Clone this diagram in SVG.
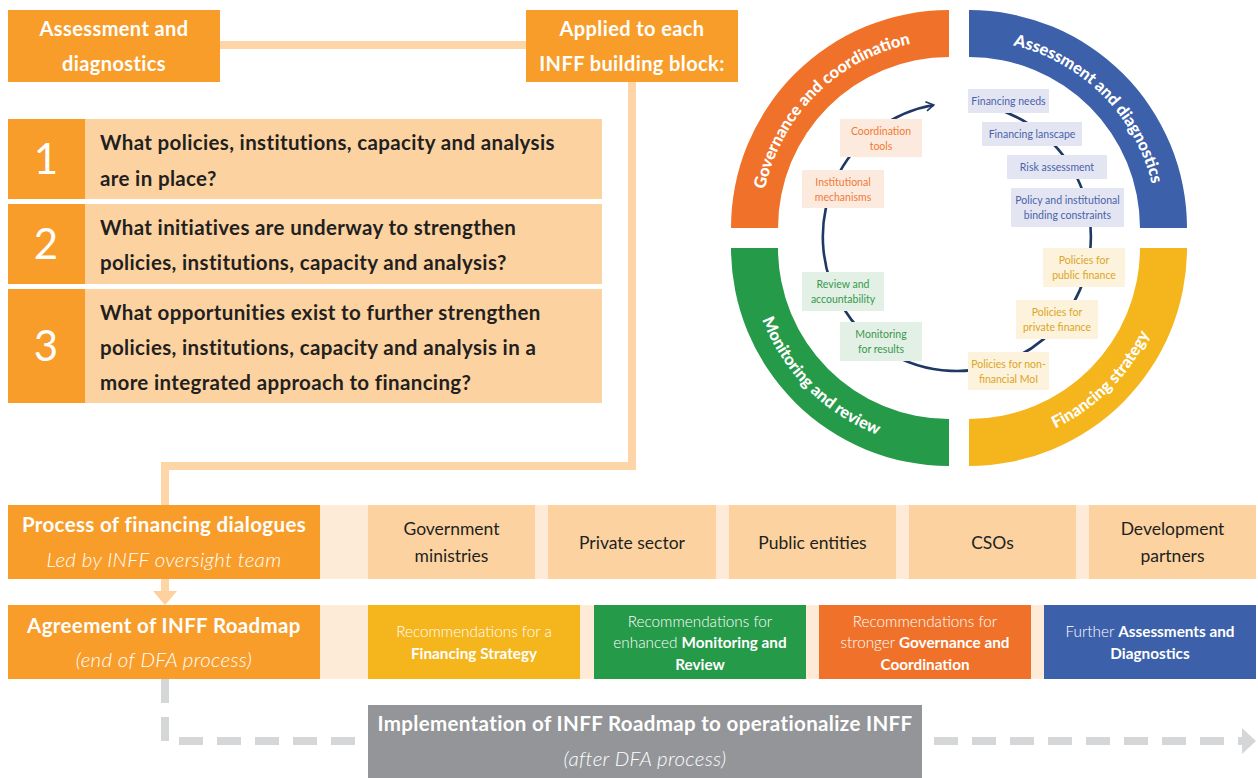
<svg xmlns="http://www.w3.org/2000/svg" width="1258" height="778" viewBox="0 0 1258 778">
<style>
  text { font-family: Lato, "Liberation Sans", sans-serif; }
  .hdr { fill: #ffffff; font-weight: 700; font-size: 20px; letter-spacing: 0.4px; text-anchor: middle; }
  .q { fill: #231f20; font-weight: 700; font-size: 20.5px; letter-spacing: 0.35px; }
  .num { fill: #ffffff; font-size: 42px; text-anchor: middle; }
  .ring { fill: #ffffff; font-weight: 900; font-size: 16.5px; }
  .lab { font-size: 10.5px; text-anchor: middle; }
  .lo { fill: #f07a35; } .lb { fill: #4a62aa; } .ly { fill: #dba526; } .lg { fill: #36994e; }
  .bo { fill: #fdeade; } .bb { fill: #e3e6f2; } .by { fill: #fdf3dc; } .bg { fill: #e3f0e5; }
  .org { fill: #f89d2a; }
  .peach { fill: #fcd3a0; }
  .cream { fill: #feebd7; }
  .big { fill: #ffffff; font-weight: 700; font-size: 20.5px; letter-spacing: 0.35px; text-anchor: middle; }
  .it { fill: #ffffff; font-style: italic; font-weight: 300; font-size: 20.5px; letter-spacing: 0.3px; text-anchor: middle; }
  .stk { fill: #231f20; font-size: 17.5px; text-anchor: middle; }
  .rec { fill: #ffffff; font-size: 15.3px; text-anchor: middle; font-weight: 300; }
  .rec tspan.b { font-weight: 700; }
  .conn { fill: none; stroke: #fdd5a6; stroke-width: 8; }
  .dash { fill: none; stroke: #d5d6d8; stroke-width: 8; stroke-dasharray: 24 14; }
</style>
<defs>
  <marker id="arr" viewBox="0 0 10 10" refX="8" refY="5" markerWidth="4.5" markerHeight="4.5" orient="auto" markerUnits="strokeWidth">
    <path d="M1.5,1 L8,5 L1.5,9" fill="none" stroke="#1f3864" stroke-width="1.4"/>
  </marker>
  <path id="tpO" d="M761,228 A188,188 0 0 1 949,40"/>
  <path id="tpB" d="M969,40 A188,188 0 0 1 1157,228"/>
  <path id="tpG" d="M749,248 A200,200 0 0 0 949,448"/>
  <path id="tpY" d="M969,448 A200,200 0 0 0 1169,248"/>
</defs>

<g id="connectors">
  <path class="conn" d="M220,45 L526,45"/>
  <path class="conn" d="M632,82 L632,466 L165,466 L165,505"/>
  <path class="conn" d="M165,579 L165,593"/>
  <path d="M153,591 L177,591 L165,605 Z" fill="#fdd09c"/>
  <path class="dash" d="M165,679 L165,741 L368,741"/>
  <path class="dash" d="M922,741 L1244,741" style="stroke-dashoffset:-12"/>
  <path d="M1242,728 L1256,741 L1242,754 Z" fill="#d5d6d8"/>
</g>

<g id="n-assessment">
  <rect x="8" y="10" width="212" height="72" class="org"/>
  <text class="hdr" x="114" y="36">Assessment and</text>
  <text class="hdr" x="114" y="71">diagnostics</text>
</g>
<g id="n-applied">
  <rect x="526" y="10" width="212" height="72" class="org"/>
  <text class="hdr" x="632" y="36">Applied to each</text>
  <text class="hdr" x="632" y="71">INFF building block:</text>
</g>

<g id="n-q1">
  <rect x="8" y="119" width="594" height="80" class="peach"/>
  <rect x="8" y="119" width="77" height="80" class="org"/>
  <text class="num" x="46" y="174">1</text>
  <text class="q" x="100" y="150">What policies, institutions, capacity and analysis</text>
  <text class="q" x="100" y="186">are in place?</text>
</g>
<g id="n-q2">
  <rect x="8" y="204" width="594" height="80" class="peach"/>
  <rect x="8" y="204" width="77" height="80" class="org"/>
  <text class="num" x="46" y="259">2</text>
  <text class="q" x="100" y="235">What initiatives are underway to strengthen</text>
  <text class="q" x="100" y="270">policies, institutions, capacity and analysis?</text>
</g>
<g id="n-q3">
  <rect x="8" y="289" width="594" height="114" class="peach"/>
  <rect x="8" y="289" width="77" height="114" class="org"/>
  <text class="num" x="46" y="361">3</text>
  <text class="q" x="100" y="320">What opportunities exist to further strengthen</text>
  <text class="q" x="100" y="355">policies, institutions, capacity and analysis in a</text>
  <text class="q" x="100" y="390">more integrated approach to financing?</text>
</g>

<g id="n-wheel">
  <path d="M731,228 A218,218 0 0 1 949,10 L949,57 A171,171 0 0 0 778,228 Z" fill="#f0722a"/>
  <path d="M969,10 A218,218 0 0 1 1187,228 L1140,228 A171,171 0 0 0 969,57 Z" fill="#3d60ab"/>
  <path d="M731,248 A218,218 0 0 0 949,466 L949,419 A171,171 0 0 1 778,248 Z" fill="#259a48"/>
  <path d="M969,466 A218,218 0 0 0 1187,248 L1140,248 A171,171 0 0 1 969,419 Z" fill="#f5b51c"/>
  <text class="ring"><textPath href="#tpO" startOffset="50%" text-anchor="middle">Governance and coordination</textPath></text>
  <text class="ring"><textPath href="#tpB" startOffset="50%" text-anchor="middle">Assessment and diagnostics</textPath></text>
  <text class="ring"><textPath href="#tpG" startOffset="50%" text-anchor="middle">Monitoring and review</textPath></text>
  <text class="ring"><textPath href="#tpY" startOffset="50%" text-anchor="middle">Financing strategy</textPath></text>
  <path d="M991.7,107.6 A134,134 0 1 1 933.7,105" fill="none" stroke="#1f3864" stroke-width="2.6" marker-end="url(#arr)"/>
</g>

<g id="n-coord"><rect x="840" y="119" width="82" height="38" class="bo"/>
  <text class="lab lo" x="881" y="135">Coordination</text><text class="lab lo" x="881" y="150">tools</text></g>
<g id="n-inst"><rect x="802" y="170" width="82" height="38" class="bo"/>
  <text class="lab lo" x="843" y="186">Institutional</text><text class="lab lo" x="843" y="201">mechanisms</text></g>
<g id="n-needs"><rect x="968" y="89" width="81" height="24" class="bb"/>
  <text class="lab lb" x="1008.5" y="105">Financing needs</text></g>
<g id="n-lanscape"><rect x="982" y="122" width="100" height="24" class="bb"/>
  <text class="lab lb" x="1032" y="138">Financing lanscape</text></g>
<g id="n-risk"><rect x="1007" y="155" width="100" height="24" class="bb"/>
  <text class="lab lb" x="1057" y="171">Risk assessment</text></g>
<g id="n-policy"><rect x="1011" y="188" width="113" height="39" class="bb"/>
  <text class="lab lb" x="1067.5" y="204">Policy and institutional</text><text class="lab lb" x="1067.5" y="219">binding constraints</text></g>
<g id="n-public"><rect x="1043" y="248" width="82" height="39" class="by"/>
  <text class="lab ly" x="1084" y="264">Policies for</text><text class="lab ly" x="1084" y="279">public finance</text></g>
<g id="n-private"><rect x="1016" y="300" width="82" height="39" class="by"/>
  <text class="lab ly" x="1057" y="316">Policies for</text><text class="lab ly" x="1057" y="331">private finance</text></g>
<g id="n-nonfin"><rect x="968" y="352" width="81" height="38" class="by"/>
  <text class="lab ly" x="1008.5" y="368">Policies for non-</text><text class="lab ly" x="1008.5" y="383">financial MoI</text></g>
<g id="n-review"><rect x="802" y="272" width="82" height="39" class="bg"/>
  <text class="lab lg" x="843" y="288">Review and</text><text class="lab lg" x="843" y="303">accountability</text></g>
<g id="n-monitor"><rect x="840" y="322" width="82" height="39" class="bg"/>
  <text class="lab lg" x="881" y="338">Monitoring</text><text class="lab lg" x="881" y="353">for results</text></g>

<g id="n-process">
  <rect x="320" y="505" width="936" height="74" class="cream"/>
  <rect x="8" y="505" width="312" height="74" class="org"/>
  <text class="big" x="164" y="532">Process of financing dialogues</text>
  <text class="it" x="164" y="567">Led by INFF oversight team</text>
</g>
<g id="n-gov"><rect x="368" y="505" width="167" height="74" class="peach"/>
  <text class="stk" x="451.5" y="535">Government</text><text class="stk" x="451.5" y="562">ministries</text></g>
<g id="n-privsec"><rect x="548" y="505" width="168" height="74" class="peach"/>
  <text class="stk" x="632" y="549">Private sector</text></g>
<g id="n-pubent"><rect x="729" y="505" width="167" height="74" class="peach"/>
  <text class="stk" x="812.5" y="549">Public entities</text></g>
<g id="n-csos"><rect x="909" y="505" width="167" height="74" class="peach"/>
  <text class="stk" x="992.5" y="549">CSOs</text></g>
<g id="n-dev"><rect x="1089" y="505" width="167" height="74" class="peach"/>
  <text class="stk" x="1172.5" y="535">Development</text><text class="stk" x="1172.5" y="562">partners</text></g>

<g id="n-agreement">
  <rect x="320" y="605" width="936" height="74" class="cream"/>
  <rect x="8" y="605" width="312" height="74" class="org"/>
  <text class="big" x="164" y="633">Agreement of INFF Roadmap</text>
  <text class="it" x="164" y="667">(end of DFA process)</text>
</g>
<g id="n-rec-fs"><rect x="368" y="605" width="212" height="74" fill="#f5b51c"/>
  <text class="rec" x="474" y="637">Recommendations for a</text>
  <text class="rec" x="474" y="659"><tspan class="b">Financing Strategy</tspan></text></g>
<g id="n-rec-mr"><rect x="594" y="605" width="212" height="74" fill="#259a48"/>
  <text class="rec" x="700" y="627">Recommendations for</text>
  <text class="rec" x="700" y="648">enhanced <tspan class="b">Monitoring and</tspan></text>
  <text class="rec" x="700" y="670"><tspan class="b">Review</tspan></text></g>
<g id="n-rec-gc"><rect x="819" y="605" width="212" height="74" fill="#f0722a"/>
  <text class="rec" x="925" y="627">Recommendations for</text>
  <text class="rec" x="925" y="648">stronger <tspan class="b">Governance and</tspan></text>
  <text class="rec" x="925" y="670"><tspan class="b">Coordination</tspan></text></g>
<g id="n-rec-ad"><rect x="1044" y="605" width="212" height="74" fill="#3d60ab"/>
  <text class="rec" x="1150" y="637">Further <tspan class="b">Assessments and</tspan></text>
  <text class="rec" x="1150" y="659"><tspan class="b">Diagnostics</tspan></text></g>

<g id="n-impl">
  <rect x="368" y="705" width="554" height="73" fill="#939598"/>
  <text class="big" x="645" y="731">Implementation of INFF Roadmap to operationalize INFF</text>
  <text class="it" x="645" y="766">(after DFA process)</text>
</g>
</svg>
